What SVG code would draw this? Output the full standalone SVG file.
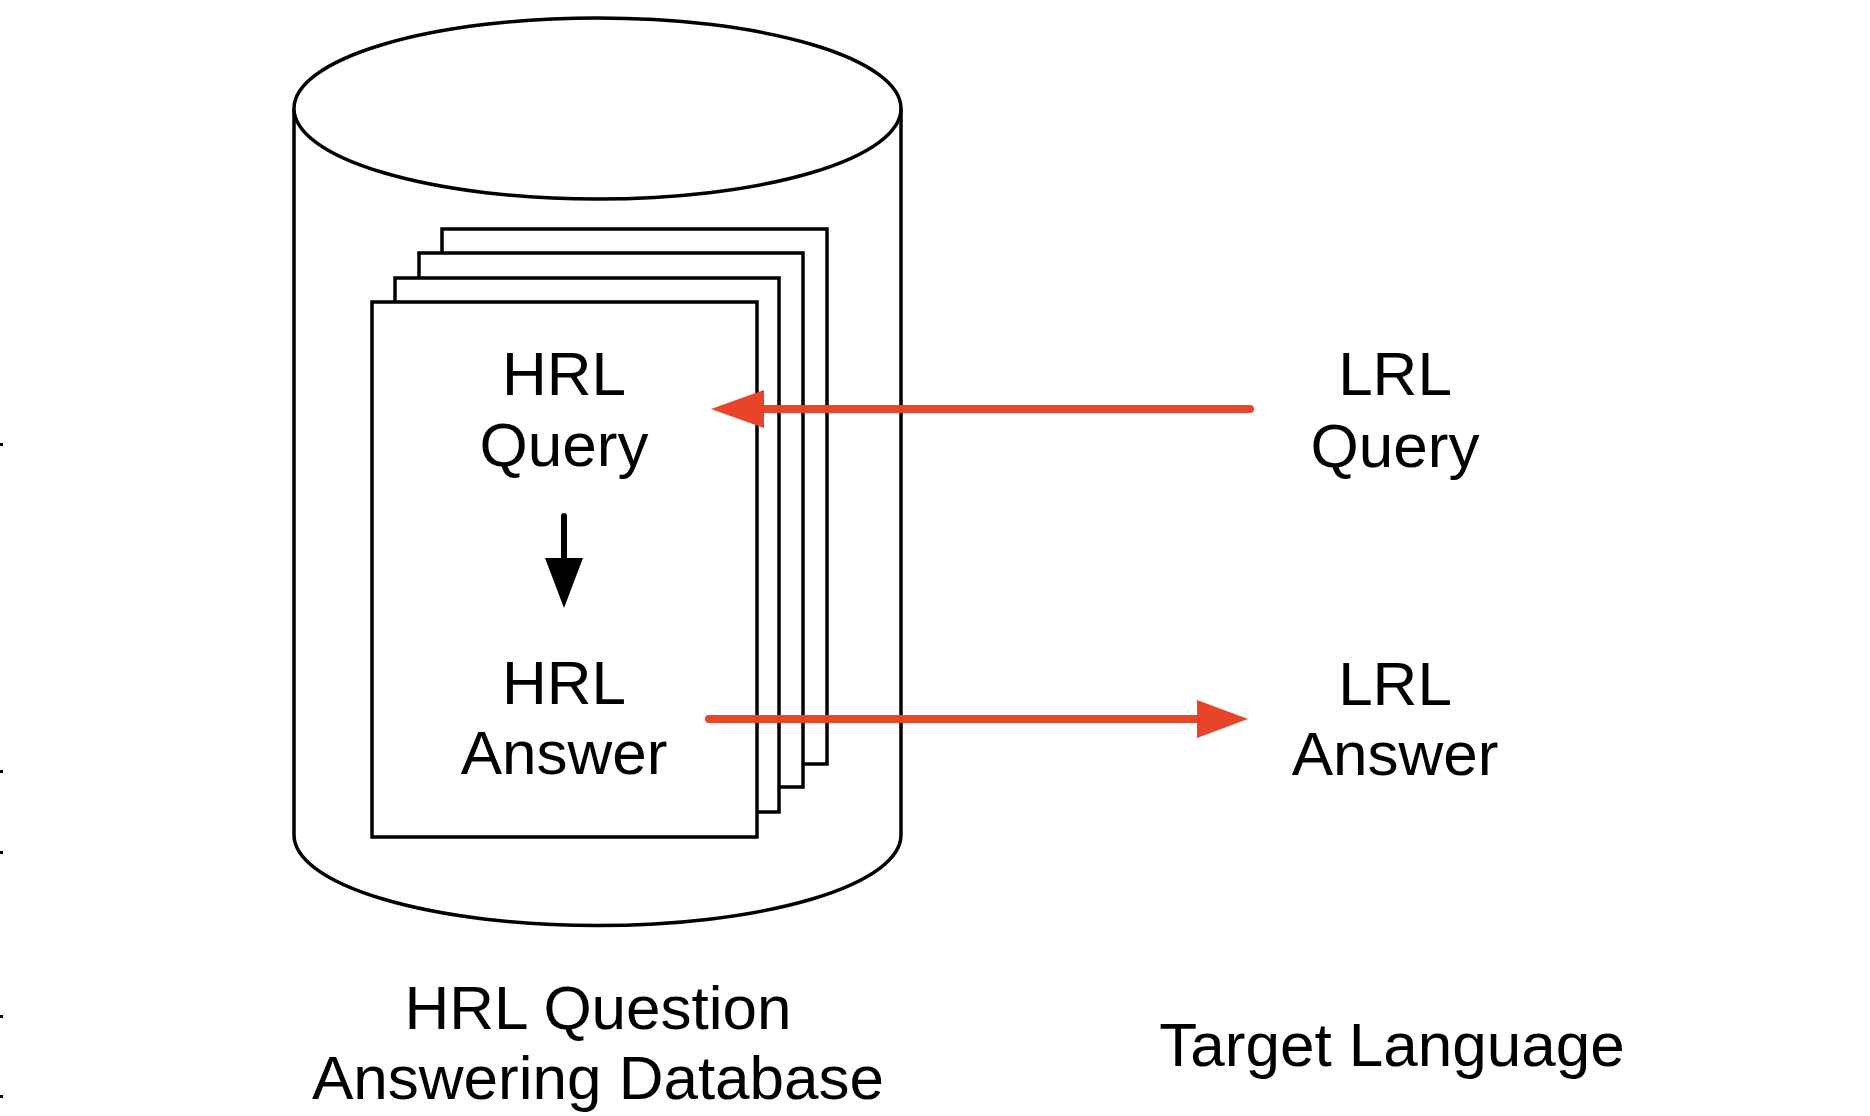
<svg xmlns="http://www.w3.org/2000/svg" width="1870" height="1116" viewBox="0 0 1870 1116">
<style>
.ln{fill:#fff;stroke:#000;stroke-width:3.5;stroke-linejoin:miter}
.t{font-family:"Liberation Sans",Arial,Helvetica,sans-serif;font-size:62px;fill:#000;text-anchor:middle}
.red{stroke:#E9432A;stroke-width:8;stroke-linecap:round;fill:none}
.redh{fill:#E9432A}
</style>
<rect width="1870" height="1116" fill="#fff"/>
<g id="edge-marks" fill="#000">
<rect x="0" y="443" width="3" height="3"/>
<rect x="0" y="770" width="3" height="3"/>
<rect x="0" y="851" width="3" height="3"/>
<rect x="0" y="1015" width="3" height="3"/>
<rect x="0" y="1095" width="3" height="3"/>
</g>
<g id="database">
<path class="ln" d="M294,108.5 L294,835 A303.5,90.5 0 0 0 901,835 L901,108.5"/>
<ellipse class="ln" cx="597.5" cy="108.5" rx="303.5" ry="90.5"/>
</g>
<g id="pages">
<rect class="ln" x="442" y="229" width="385" height="535"/>
<rect class="ln" x="419" y="253" width="384" height="534"/>
<rect class="ln" x="395" y="278" width="384" height="534"/>
<rect class="ln" x="372" y="302" width="385" height="535"/>
</g>
<g id="hrl-query">
<text class="t" x="564" y="395">HRL</text>
<text class="t" x="564" y="466">Query</text>
</g>
<g id="hrl-answer">
<text class="t" x="564" y="704">HRL</text>
<text class="t" x="564" y="774">Answer</text>
</g>
<g id="lrl-query">
<text class="t" x="1395" y="395">LRL</text>
<text class="t" x="1395" y="467">Query</text>
</g>
<g id="lrl-answer">
<text class="t" x="1395" y="705">LRL</text>
<text class="t" x="1395" y="775">Answer</text>
</g>
<g id="db-label">
<text class="t" x="598" y="1029">HRL Question</text>
<text class="t" x="598" y="1099">Answering Database</text>
</g>
<g id="target-label">
<text class="t" x="1392" y="1066">Target Language</text>
</g>
<g id="connectors">
<line class="red" x1="1250" y1="409" x2="760" y2="409"/>
<polygon class="redh" points="711,409 764,390 764,428"/>
<line class="red" x1="709" y1="719" x2="1200" y2="719"/>
<polygon class="redh" points="1248,719 1197,700 1197,738"/>
<line x1="564" y1="516" x2="564" y2="562" stroke="#000" stroke-width="6" stroke-linecap="round"/>
<polygon points="545,558 583,558 564,608" fill="#000"/>
</g>
</svg>
